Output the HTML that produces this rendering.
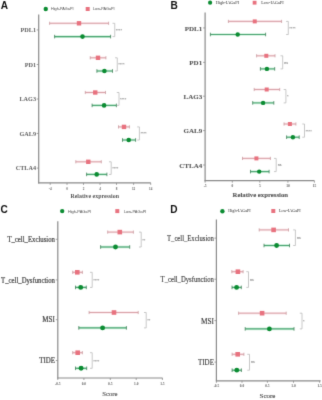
<!DOCTYPE html>
<html><head><meta charset="utf-8">
<style>
html,body{margin:0;padding:0;background:#fff;}
body{width:322px;height:400px;overflow:hidden;font-family:"Liberation Serif",serif;}
#w{width:322px;height:400px;will-change:transform;}
svg{display:block;}
</style></head>
<body>
<div id="w">
<svg width="322" height="400" viewBox="0 0 322 400">
<defs><filter id="bl" color-interpolation-filters="sRGB" filterUnits="userSpaceOnUse" x="0" y="0" width="322" height="400"><feConvolveMatrix order="3" kernelMatrix="0.01134 0.08382 0.01134 0.08382 0.61935 0.08382 0.01134 0.08382 0.01134" divisor="1" edgeMode="duplicate"/></filter></defs>
<rect x="0" y="0" width="322" height="400" fill="#ffffff"/>
<g filter="url(#bl)">
<line x1="38.70" y1="14.40" x2="38.70" y2="183.40" stroke="#8a8a8a" stroke-width="1.2"/>
<line x1="38.20" y1="182.90" x2="150.80" y2="182.90" stroke="#8a8a8a" stroke-width="1.2"/>
<line x1="50.20" y1="182.90" x2="50.20" y2="184.90" stroke="#8a8a8a" stroke-width="0.8"/>
<text x="50.20" y="189.80" font-family="'Liberation Serif', serif" font-size="3.3" fill="#5e5e5e" text-anchor="middle" font-weight="bold" >-4</text>
<line x1="67.00" y1="182.90" x2="67.00" y2="184.90" stroke="#8a8a8a" stroke-width="0.8"/>
<text x="67.00" y="189.80" font-family="'Liberation Serif', serif" font-size="3.3" fill="#5e5e5e" text-anchor="middle" font-weight="bold" >0</text>
<line x1="83.50" y1="182.90" x2="83.50" y2="184.90" stroke="#8a8a8a" stroke-width="0.8"/>
<text x="83.50" y="189.80" font-family="'Liberation Serif', serif" font-size="3.3" fill="#5e5e5e" text-anchor="middle" font-weight="bold" >2</text>
<line x1="100.00" y1="182.90" x2="100.00" y2="184.90" stroke="#8a8a8a" stroke-width="0.8"/>
<text x="100.00" y="189.80" font-family="'Liberation Serif', serif" font-size="3.3" fill="#5e5e5e" text-anchor="middle" font-weight="bold" >4</text>
<line x1="116.50" y1="182.90" x2="116.50" y2="184.90" stroke="#8a8a8a" stroke-width="0.8"/>
<text x="116.50" y="189.80" font-family="'Liberation Serif', serif" font-size="3.3" fill="#5e5e5e" text-anchor="middle" font-weight="bold" >8</text>
<line x1="133.60" y1="182.90" x2="133.60" y2="184.90" stroke="#8a8a8a" stroke-width="0.8"/>
<text x="133.60" y="189.80" font-family="'Liberation Serif', serif" font-size="3.3" fill="#5e5e5e" text-anchor="middle" font-weight="bold" >12</text>
<line x1="150.70" y1="182.90" x2="150.70" y2="184.90" stroke="#8a8a8a" stroke-width="0.8"/>
<text x="150.70" y="189.80" font-family="'Liberation Serif', serif" font-size="3.3" fill="#5e5e5e" text-anchor="middle" font-weight="bold" >14</text>
<line x1="36.70" y1="29.95" x2="38.70" y2="29.95" stroke="#8a8a8a" stroke-width="0.8"/>
<text x="36.00" y="32.20" font-family="'Liberation Serif', serif" font-size="6.2" fill="#606060" text-anchor="end" font-weight="bold" >PDL1</text>
<line x1="36.70" y1="64.50" x2="38.70" y2="64.50" stroke="#8a8a8a" stroke-width="0.8"/>
<text x="36.00" y="66.75" font-family="'Liberation Serif', serif" font-size="6.2" fill="#606060" text-anchor="end" font-weight="bold" >PD1</text>
<line x1="36.70" y1="99.00" x2="38.70" y2="99.00" stroke="#8a8a8a" stroke-width="0.8"/>
<text x="36.00" y="101.25" font-family="'Liberation Serif', serif" font-size="6.2" fill="#606060" text-anchor="end" font-weight="bold" >LAG3</text>
<line x1="36.70" y1="133.45" x2="38.70" y2="133.45" stroke="#8a8a8a" stroke-width="0.8"/>
<text x="36.00" y="135.70" font-family="'Liberation Serif', serif" font-size="6.2" fill="#606060" text-anchor="end" font-weight="bold" >GAL9</text>
<line x1="36.70" y1="168.10" x2="38.70" y2="168.10" stroke="#8a8a8a" stroke-width="0.8"/>
<text x="36.00" y="170.35" font-family="'Liberation Serif', serif" font-size="6.2" fill="#606060" text-anchor="end" font-weight="bold" >CTLA4</text>
<line x1="49.60" y1="23.30" x2="108.60" y2="23.30" stroke="#fbe8eb" stroke-width="2.6"/>
<line x1="49.60" y1="23.30" x2="108.60" y2="23.30" stroke="#d9a3a9" stroke-width="1.0"/>
<line x1="49.60" y1="21.70" x2="49.60" y2="24.90" stroke="#c99aa0" stroke-width="0.8"/>
<line x1="108.60" y1="21.70" x2="108.60" y2="24.90" stroke="#c99aa0" stroke-width="0.8"/>
<rect x="76.80" y="21.10" width="4.40" height="4.40" fill="#e8727f"/>
<line x1="54.60" y1="36.60" x2="110.60" y2="36.60" stroke="#d3f2de" stroke-width="2.7"/>
<line x1="54.60" y1="36.60" x2="110.60" y2="36.60" stroke="#4aa572" stroke-width="1.1"/>
<line x1="54.60" y1="34.80" x2="54.60" y2="38.40" stroke="#3f7d57" stroke-width="0.8"/>
<line x1="110.60" y1="34.80" x2="110.60" y2="38.40" stroke="#3f7d57" stroke-width="0.8"/>
<circle cx="82.50" cy="36.60" r="2.30" fill="#0b8c32"/>
<polyline points="112.55,23.30 114.75,23.30 114.75,36.60 112.55,36.60" fill="none" stroke="#bababa" stroke-width="0.8"/>
<text x="115.75" y="31.95" font-family="'Liberation Sans', sans-serif" font-size="4.0" fill="#999" text-anchor="start" font-weight="bold" >****</text>
<line x1="90.25" y1="57.80" x2="105.90" y2="57.80" stroke="#fbe8eb" stroke-width="2.6"/>
<line x1="90.25" y1="57.80" x2="105.90" y2="57.80" stroke="#d9a3a9" stroke-width="1.0"/>
<line x1="90.25" y1="56.20" x2="90.25" y2="59.40" stroke="#c99aa0" stroke-width="0.8"/>
<line x1="105.90" y1="56.20" x2="105.90" y2="59.40" stroke="#c99aa0" stroke-width="0.8"/>
<rect x="95.80" y="55.60" width="4.40" height="4.40" fill="#e8727f"/>
<line x1="96.90" y1="71.00" x2="112.50" y2="71.00" stroke="#d3f2de" stroke-width="2.7"/>
<line x1="96.90" y1="71.00" x2="112.50" y2="71.00" stroke="#4aa572" stroke-width="1.1"/>
<line x1="96.90" y1="69.20" x2="96.90" y2="72.80" stroke="#3f7d57" stroke-width="0.8"/>
<line x1="112.50" y1="69.20" x2="112.50" y2="72.80" stroke="#3f7d57" stroke-width="0.8"/>
<circle cx="104.40" cy="71.00" r="2.30" fill="#0b8c32"/>
<polyline points="115.05,57.80 117.25,57.80 117.25,71.00 115.05,71.00" fill="none" stroke="#bababa" stroke-width="0.8"/>
<text x="118.25" y="66.40" font-family="'Liberation Sans', sans-serif" font-size="4.0" fill="#999" text-anchor="start" font-weight="bold" >****</text>
<line x1="85.30" y1="92.50" x2="105.50" y2="92.50" stroke="#fbe8eb" stroke-width="2.6"/>
<line x1="85.30" y1="92.50" x2="105.50" y2="92.50" stroke="#d9a3a9" stroke-width="1.0"/>
<line x1="85.30" y1="90.90" x2="85.30" y2="94.10" stroke="#c99aa0" stroke-width="0.8"/>
<line x1="105.50" y1="90.90" x2="105.50" y2="94.10" stroke="#c99aa0" stroke-width="0.8"/>
<rect x="93.05" y="90.30" width="4.40" height="4.40" fill="#e8727f"/>
<line x1="92.10" y1="105.40" x2="116.40" y2="105.40" stroke="#d3f2de" stroke-width="2.7"/>
<line x1="92.10" y1="105.40" x2="116.40" y2="105.40" stroke="#4aa572" stroke-width="1.1"/>
<line x1="92.10" y1="103.60" x2="92.10" y2="107.20" stroke="#3f7d57" stroke-width="0.8"/>
<line x1="116.40" y1="103.60" x2="116.40" y2="107.20" stroke="#3f7d57" stroke-width="0.8"/>
<circle cx="104.10" cy="105.40" r="2.30" fill="#0b8c32"/>
<polyline points="116.80,92.50 119.00,92.50 119.00,105.40 116.80,105.40" fill="none" stroke="#bababa" stroke-width="0.8"/>
<text x="120.00" y="100.95" font-family="'Liberation Sans', sans-serif" font-size="4.0" fill="#999" text-anchor="start" font-weight="bold" >****</text>
<line x1="118.50" y1="126.90" x2="129.40" y2="126.90" stroke="#fbe8eb" stroke-width="2.6"/>
<line x1="118.50" y1="126.90" x2="129.40" y2="126.90" stroke="#d9a3a9" stroke-width="1.0"/>
<line x1="118.50" y1="125.30" x2="118.50" y2="128.50" stroke="#c99aa0" stroke-width="0.8"/>
<line x1="129.40" y1="125.30" x2="129.40" y2="128.50" stroke="#c99aa0" stroke-width="0.8"/>
<rect x="121.80" y="124.70" width="4.40" height="4.40" fill="#e8727f"/>
<line x1="122.50" y1="140.00" x2="135.60" y2="140.00" stroke="#d3f2de" stroke-width="2.7"/>
<line x1="122.50" y1="140.00" x2="135.60" y2="140.00" stroke="#4aa572" stroke-width="1.1"/>
<line x1="122.50" y1="138.20" x2="122.50" y2="141.80" stroke="#3f7d57" stroke-width="0.8"/>
<line x1="135.60" y1="138.20" x2="135.60" y2="141.80" stroke="#3f7d57" stroke-width="0.8"/>
<circle cx="128.75" cy="140.00" r="2.30" fill="#0b8c32"/>
<polyline points="137.20,126.90 139.40,126.90 139.40,140.00 137.20,140.00" fill="none" stroke="#bababa" stroke-width="0.8"/>
<text x="140.40" y="135.45" font-family="'Liberation Sans', sans-serif" font-size="4.0" fill="#999" text-anchor="start" font-weight="bold" >****</text>
<line x1="75.80" y1="161.80" x2="101.30" y2="161.80" stroke="#fbe8eb" stroke-width="2.6"/>
<line x1="75.80" y1="161.80" x2="101.30" y2="161.80" stroke="#d9a3a9" stroke-width="1.0"/>
<line x1="75.80" y1="160.20" x2="75.80" y2="163.40" stroke="#c99aa0" stroke-width="0.8"/>
<line x1="101.30" y1="160.20" x2="101.30" y2="163.40" stroke="#c99aa0" stroke-width="0.8"/>
<rect x="86.10" y="159.60" width="4.40" height="4.40" fill="#e8727f"/>
<line x1="86.60" y1="174.40" x2="106.90" y2="174.40" stroke="#d3f2de" stroke-width="2.7"/>
<line x1="86.60" y1="174.40" x2="106.90" y2="174.40" stroke="#4aa572" stroke-width="1.1"/>
<line x1="86.60" y1="172.60" x2="86.60" y2="176.20" stroke="#3f7d57" stroke-width="0.8"/>
<line x1="106.90" y1="172.60" x2="106.90" y2="176.20" stroke="#3f7d57" stroke-width="0.8"/>
<circle cx="96.70" cy="174.40" r="2.30" fill="#0b8c32"/>
<polyline points="109.00,161.80 111.20,161.80 111.20,174.40 109.00,174.40" fill="none" stroke="#bababa" stroke-width="0.8"/>
<text x="112.20" y="170.10" font-family="'Liberation Sans', sans-serif" font-size="4.0" fill="#999" text-anchor="start" font-weight="bold" >****</text>
<circle cx="45.75" cy="9.0" r="2.2" fill="#0b8c32"/>
<rect x="85.7" y="7.0" width="4.0" height="4.0" fill="#e8727f"/>
<text x="51.00" y="10.45" font-family="'Liberation Sans', sans-serif" font-size="3.8" fill="#4a4a4a" text-anchor="start" font-weight="normal" >High-PAGaPI</text>
<text x="93.00" y="10.45" font-family="'Liberation Sans', sans-serif" font-size="3.8" fill="#4a4a4a" text-anchor="start" font-weight="normal" >Low-PAGaPI</text>
<text x="0.80" y="8.80" font-family="'Liberation Sans', sans-serif" font-size="10.1" fill="#111" text-anchor="start" font-weight="bold" >A</text>
<text x="94.75" y="197.80" font-family="'Liberation Serif', serif" font-size="5.9" fill="#555" text-anchor="middle" font-weight="bold" >Relative expression</text>
<line x1="205.10" y1="12.40" x2="205.10" y2="181.20" stroke="#8a8a8a" stroke-width="1.2"/>
<line x1="204.60" y1="180.70" x2="314.40" y2="180.70" stroke="#8a8a8a" stroke-width="1.2"/>
<line x1="205.10" y1="180.70" x2="205.10" y2="182.70" stroke="#8a8a8a" stroke-width="0.8"/>
<text x="205.10" y="187.20" font-family="'Liberation Serif', serif" font-size="3.5" fill="#5e5e5e" text-anchor="middle" font-weight="bold" >-5</text>
<line x1="232.30" y1="180.70" x2="232.30" y2="182.70" stroke="#8a8a8a" stroke-width="0.8"/>
<text x="232.30" y="187.20" font-family="'Liberation Serif', serif" font-size="3.5" fill="#5e5e5e" text-anchor="middle" font-weight="bold" >0</text>
<line x1="259.80" y1="180.70" x2="259.80" y2="182.70" stroke="#8a8a8a" stroke-width="0.8"/>
<text x="259.80" y="187.20" font-family="'Liberation Serif', serif" font-size="3.5" fill="#5e5e5e" text-anchor="middle" font-weight="bold" >5</text>
<line x1="287.90" y1="180.70" x2="287.90" y2="182.70" stroke="#8a8a8a" stroke-width="0.8"/>
<text x="287.90" y="187.20" font-family="'Liberation Serif', serif" font-size="3.5" fill="#5e5e5e" text-anchor="middle" font-weight="bold" >10</text>
<line x1="314.40" y1="180.70" x2="314.40" y2="182.70" stroke="#8a8a8a" stroke-width="0.8"/>
<text x="314.40" y="187.20" font-family="'Liberation Serif', serif" font-size="3.5" fill="#5e5e5e" text-anchor="middle" font-weight="bold" >15</text>
<line x1="203.10" y1="27.95" x2="205.10" y2="27.95" stroke="#8a8a8a" stroke-width="0.8"/>
<text x="202.20" y="30.56" font-family="'Liberation Serif', serif" font-size="7.0" fill="#555" text-anchor="end" font-weight="bold" stroke="#555" stroke-width="0.08">PDL1</text>
<line x1="203.10" y1="62.35" x2="205.10" y2="62.35" stroke="#8a8a8a" stroke-width="0.8"/>
<text x="202.20" y="64.96" font-family="'Liberation Serif', serif" font-size="7.0" fill="#555" text-anchor="end" font-weight="bold" stroke="#555" stroke-width="0.08">PD1</text>
<line x1="203.10" y1="96.20" x2="205.10" y2="96.20" stroke="#8a8a8a" stroke-width="0.8"/>
<text x="202.20" y="98.81" font-family="'Liberation Serif', serif" font-size="7.0" fill="#555" text-anchor="end" font-weight="bold" stroke="#555" stroke-width="0.08">LAG3</text>
<line x1="203.10" y1="130.60" x2="205.10" y2="130.60" stroke="#8a8a8a" stroke-width="0.8"/>
<text x="202.20" y="133.21" font-family="'Liberation Serif', serif" font-size="7.0" fill="#555" text-anchor="end" font-weight="bold" stroke="#555" stroke-width="0.08">GAL9</text>
<line x1="203.10" y1="165.00" x2="205.10" y2="165.00" stroke="#8a8a8a" stroke-width="0.8"/>
<text x="202.20" y="167.61" font-family="'Liberation Serif', serif" font-size="7.0" fill="#555" text-anchor="end" font-weight="bold" stroke="#555" stroke-width="0.08">CTLA4</text>
<line x1="228.40" y1="21.40" x2="281.60" y2="21.40" stroke="#fbe8eb" stroke-width="2.6"/>
<line x1="228.40" y1="21.40" x2="281.60" y2="21.40" stroke="#d9a3a9" stroke-width="1.0"/>
<line x1="228.40" y1="19.80" x2="228.40" y2="23.00" stroke="#c99aa0" stroke-width="0.8"/>
<line x1="281.60" y1="19.80" x2="281.60" y2="23.00" stroke="#c99aa0" stroke-width="0.8"/>
<rect x="252.75" y="19.40" width="4.00" height="4.00" fill="#e8727f"/>
<line x1="210.40" y1="34.50" x2="265.60" y2="34.50" stroke="#d3f2de" stroke-width="2.7"/>
<line x1="210.40" y1="34.50" x2="265.60" y2="34.50" stroke="#4aa572" stroke-width="1.1"/>
<line x1="210.40" y1="32.70" x2="210.40" y2="36.30" stroke="#3f7d57" stroke-width="0.8"/>
<line x1="265.60" y1="32.70" x2="265.60" y2="36.30" stroke="#3f7d57" stroke-width="0.8"/>
<circle cx="237.70" cy="34.50" r="2.20" fill="#0b8c32"/>
<polyline points="286.10,21.40 288.30,21.40 288.30,34.50 286.10,34.50" fill="none" stroke="#bababa" stroke-width="0.8"/>
<text x="289.30" y="29.95" font-family="'Liberation Sans', sans-serif" font-size="4.0" fill="#999" text-anchor="start" font-weight="bold" >****</text>
<line x1="256.60" y1="55.80" x2="275.00" y2="55.80" stroke="#fbe8eb" stroke-width="2.6"/>
<line x1="256.60" y1="55.80" x2="275.00" y2="55.80" stroke="#d9a3a9" stroke-width="1.0"/>
<line x1="256.60" y1="54.20" x2="256.60" y2="57.40" stroke="#c99aa0" stroke-width="0.8"/>
<line x1="275.00" y1="54.20" x2="275.00" y2="57.40" stroke="#c99aa0" stroke-width="0.8"/>
<rect x="264.30" y="53.80" width="4.00" height="4.00" fill="#e8727f"/>
<line x1="260.40" y1="68.90" x2="274.70" y2="68.90" stroke="#d3f2de" stroke-width="2.7"/>
<line x1="260.40" y1="68.90" x2="274.70" y2="68.90" stroke="#4aa572" stroke-width="1.1"/>
<line x1="260.40" y1="67.10" x2="260.40" y2="70.70" stroke="#3f7d57" stroke-width="0.8"/>
<line x1="274.70" y1="67.10" x2="274.70" y2="70.70" stroke="#3f7d57" stroke-width="0.8"/>
<circle cx="266.90" cy="68.90" r="2.20" fill="#0b8c32"/>
<polyline points="280.50,55.80 282.70,55.80 282.70,68.90 280.50,68.90" fill="none" stroke="#bababa" stroke-width="0.8"/>
<text x="284.20" y="63.54" font-family="'Liberation Sans', sans-serif" font-size="3.3" fill="#7a7a7a" text-anchor="start" font-weight="bold" >ns</text>
<line x1="254.20" y1="89.50" x2="279.70" y2="89.50" stroke="#fbe8eb" stroke-width="2.6"/>
<line x1="254.20" y1="89.50" x2="279.70" y2="89.50" stroke="#d9a3a9" stroke-width="1.0"/>
<line x1="254.20" y1="87.90" x2="254.20" y2="91.10" stroke="#c99aa0" stroke-width="0.8"/>
<line x1="279.70" y1="87.90" x2="279.70" y2="91.10" stroke="#c99aa0" stroke-width="0.8"/>
<rect x="264.70" y="87.50" width="4.00" height="4.00" fill="#e8727f"/>
<line x1="252.70" y1="102.90" x2="273.80" y2="102.90" stroke="#d3f2de" stroke-width="2.7"/>
<line x1="252.70" y1="102.90" x2="273.80" y2="102.90" stroke="#4aa572" stroke-width="1.1"/>
<line x1="252.70" y1="101.10" x2="252.70" y2="104.70" stroke="#3f7d57" stroke-width="0.8"/>
<line x1="273.80" y1="101.10" x2="273.80" y2="104.70" stroke="#3f7d57" stroke-width="0.8"/>
<circle cx="263.10" cy="102.90" r="2.20" fill="#0b8c32"/>
<polyline points="283.70,89.50 285.90,89.50 285.90,102.90 283.70,102.90" fill="none" stroke="#bababa" stroke-width="0.8"/>
<text x="286.90" y="98.20" font-family="'Liberation Sans', sans-serif" font-size="4.0" fill="#999" text-anchor="start" font-weight="bold" >*</text>
<line x1="284.00" y1="124.00" x2="295.90" y2="124.00" stroke="#fbe8eb" stroke-width="2.6"/>
<line x1="284.00" y1="124.00" x2="295.90" y2="124.00" stroke="#d9a3a9" stroke-width="1.0"/>
<line x1="284.00" y1="122.40" x2="284.00" y2="125.60" stroke="#c99aa0" stroke-width="0.8"/>
<line x1="295.90" y1="122.40" x2="295.90" y2="125.60" stroke="#c99aa0" stroke-width="0.8"/>
<rect x="287.90" y="122.00" width="4.00" height="4.00" fill="#e8727f"/>
<line x1="286.60" y1="137.20" x2="299.20" y2="137.20" stroke="#d3f2de" stroke-width="2.7"/>
<line x1="286.60" y1="137.20" x2="299.20" y2="137.20" stroke="#4aa572" stroke-width="1.1"/>
<line x1="286.60" y1="135.40" x2="286.60" y2="139.00" stroke="#3f7d57" stroke-width="0.8"/>
<line x1="299.20" y1="135.40" x2="299.20" y2="139.00" stroke="#3f7d57" stroke-width="0.8"/>
<circle cx="292.90" cy="137.20" r="2.20" fill="#0b8c32"/>
<polyline points="302.30,124.00 304.50,124.00 304.50,137.20 302.30,137.20" fill="none" stroke="#bababa" stroke-width="0.8"/>
<text x="305.50" y="132.60" font-family="'Liberation Sans', sans-serif" font-size="4.0" fill="#999" text-anchor="start" font-weight="bold" >****</text>
<line x1="242.50" y1="158.40" x2="270.40" y2="158.40" stroke="#fbe8eb" stroke-width="2.6"/>
<line x1="242.50" y1="158.40" x2="270.40" y2="158.40" stroke="#d9a3a9" stroke-width="1.0"/>
<line x1="242.50" y1="156.80" x2="242.50" y2="160.00" stroke="#c99aa0" stroke-width="0.8"/>
<line x1="270.40" y1="156.80" x2="270.40" y2="160.00" stroke="#c99aa0" stroke-width="0.8"/>
<rect x="254.40" y="156.40" width="4.00" height="4.00" fill="#e8727f"/>
<line x1="250.50" y1="171.60" x2="269.10" y2="171.60" stroke="#d3f2de" stroke-width="2.7"/>
<line x1="250.50" y1="171.60" x2="269.10" y2="171.60" stroke="#4aa572" stroke-width="1.1"/>
<line x1="250.50" y1="169.80" x2="250.50" y2="173.40" stroke="#3f7d57" stroke-width="0.8"/>
<line x1="269.10" y1="169.80" x2="269.10" y2="173.40" stroke="#3f7d57" stroke-width="0.8"/>
<circle cx="259.20" cy="171.60" r="2.20" fill="#0b8c32"/>
<polyline points="274.00,158.40 276.20,158.40 276.20,171.60 274.00,171.60" fill="none" stroke="#bababa" stroke-width="0.8"/>
<text x="277.70" y="166.19" font-family="'Liberation Sans', sans-serif" font-size="3.3" fill="#7a7a7a" text-anchor="start" font-weight="bold" >ns</text>
<circle cx="210.1" cy="2.7" r="2.1" fill="#0b8c32"/>
<rect x="252.7" y="0.8000000000000003" width="3.8" height="3.8" fill="#e8727f"/>
<text x="215.80" y="4.10" font-family="'Liberation Serif', serif" font-size="4.25" fill="#2a2a2a" text-anchor="start" font-weight="normal" >High-IAGaPI</text>
<text x="261.20" y="4.10" font-family="'Liberation Serif', serif" font-size="4.25" fill="#2a2a2a" text-anchor="start" font-weight="normal" >Low-IAGaPI</text>
<text x="170.60" y="8.70" font-family="'Liberation Sans', sans-serif" font-size="10.1" fill="#111" text-anchor="start" font-weight="bold" >B</text>
<text x="260.30" y="196.70" font-family="'Liberation Serif', serif" font-size="6.75" fill="#555" text-anchor="middle" font-weight="bold" stroke="#555" stroke-width="0.1">Relative expression</text>
<line x1="57.80" y1="221.20" x2="57.80" y2="378.50" stroke="#8a8a8a" stroke-width="1.2"/>
<line x1="57.30" y1="378.00" x2="162.60" y2="378.00" stroke="#8a8a8a" stroke-width="1.2"/>
<line x1="57.80" y1="378.00" x2="57.80" y2="380.00" stroke="#8a8a8a" stroke-width="0.8"/>
<text x="57.80" y="385.20" font-family="'Liberation Serif', serif" font-size="3.5" fill="#5e5e5e" text-anchor="middle" font-weight="bold" >-0.5</text>
<line x1="83.90" y1="378.00" x2="83.90" y2="380.00" stroke="#8a8a8a" stroke-width="0.8"/>
<text x="83.90" y="385.20" font-family="'Liberation Serif', serif" font-size="3.5" fill="#5e5e5e" text-anchor="middle" font-weight="bold" >0.0</text>
<line x1="110.30" y1="378.00" x2="110.30" y2="380.00" stroke="#8a8a8a" stroke-width="0.8"/>
<text x="110.30" y="385.20" font-family="'Liberation Serif', serif" font-size="3.5" fill="#5e5e5e" text-anchor="middle" font-weight="bold" >0.5</text>
<line x1="136.20" y1="378.00" x2="136.20" y2="380.00" stroke="#8a8a8a" stroke-width="0.8"/>
<text x="136.20" y="385.20" font-family="'Liberation Serif', serif" font-size="3.5" fill="#5e5e5e" text-anchor="middle" font-weight="bold" >1.0</text>
<line x1="162.40" y1="378.00" x2="162.40" y2="380.00" stroke="#8a8a8a" stroke-width="0.8"/>
<text x="162.40" y="385.20" font-family="'Liberation Serif', serif" font-size="3.5" fill="#5e5e5e" text-anchor="middle" font-weight="bold" >1.5</text>
<line x1="55.80" y1="239.30" x2="57.80" y2="239.30" stroke="#8a8a8a" stroke-width="0.8"/>
<text x="54.90" y="242.04" font-family="'Liberation Serif', serif" font-size="7.4" fill="#4a4a4a" text-anchor="end" font-weight="normal" stroke="#4a4a4a" stroke-width="0.24" textLength="47.5" lengthAdjust="spacingAndGlyphs">T_cell_Exclusion</text>
<line x1="55.80" y1="279.90" x2="57.80" y2="279.90" stroke="#8a8a8a" stroke-width="0.8"/>
<text x="54.90" y="282.64" font-family="'Liberation Serif', serif" font-size="7.4" fill="#4a4a4a" text-anchor="end" font-weight="normal" stroke="#4a4a4a" stroke-width="0.24" textLength="53.8" lengthAdjust="spacingAndGlyphs">T_cell_Dysfunction</text>
<line x1="55.80" y1="319.70" x2="57.80" y2="319.70" stroke="#8a8a8a" stroke-width="0.8"/>
<text x="54.90" y="322.44" font-family="'Liberation Serif', serif" font-size="7.4" fill="#4a4a4a" text-anchor="end" font-weight="normal" stroke="#4a4a4a" stroke-width="0.24" textLength="12.6" lengthAdjust="spacingAndGlyphs">MSI</text>
<line x1="55.80" y1="360.50" x2="57.80" y2="360.50" stroke="#8a8a8a" stroke-width="0.8"/>
<text x="54.90" y="363.24" font-family="'Liberation Serif', serif" font-size="7.4" fill="#4a4a4a" text-anchor="end" font-weight="normal" stroke="#4a4a4a" stroke-width="0.24" textLength="15.6" lengthAdjust="spacingAndGlyphs">TIDE</text>
<line x1="107.70" y1="232.10" x2="133.40" y2="232.10" stroke="#fbe8eb" stroke-width="2.6"/>
<line x1="107.70" y1="232.10" x2="133.40" y2="232.10" stroke="#d9a3a9" stroke-width="1.0"/>
<line x1="107.70" y1="230.50" x2="107.70" y2="233.70" stroke="#c99aa0" stroke-width="0.8"/>
<line x1="133.40" y1="230.50" x2="133.40" y2="233.70" stroke="#c99aa0" stroke-width="0.8"/>
<rect x="117.50" y="229.80" width="4.60" height="4.60" fill="#e8727f"/>
<line x1="100.60" y1="247.00" x2="129.70" y2="247.00" stroke="#d3f2de" stroke-width="2.8"/>
<line x1="100.60" y1="247.00" x2="129.70" y2="247.00" stroke="#4aa572" stroke-width="1.2"/>
<line x1="100.60" y1="245.20" x2="100.60" y2="248.80" stroke="#3f7d57" stroke-width="0.8"/>
<line x1="129.70" y1="245.20" x2="129.70" y2="248.80" stroke="#3f7d57" stroke-width="0.8"/>
<circle cx="115.50" cy="247.00" r="2.45" fill="#0b8c32"/>
<polyline points="139.00,232.10 141.20,232.10 141.20,247.00 139.00,247.00" fill="none" stroke="#bababa" stroke-width="0.8"/>
<text x="142.20" y="241.55" font-family="'Liberation Sans', sans-serif" font-size="4.0" fill="#999" text-anchor="start" font-weight="bold" >**</text>
<line x1="72.70" y1="272.30" x2="82.40" y2="272.30" stroke="#fbe8eb" stroke-width="2.6"/>
<line x1="72.70" y1="272.30" x2="82.40" y2="272.30" stroke="#d9a3a9" stroke-width="1.0"/>
<line x1="72.70" y1="270.70" x2="72.70" y2="273.90" stroke="#c99aa0" stroke-width="0.8"/>
<line x1="82.40" y1="270.70" x2="82.40" y2="273.90" stroke="#c99aa0" stroke-width="0.8"/>
<rect x="75.00" y="270.00" width="4.60" height="4.60" fill="#e8727f"/>
<line x1="75.50" y1="287.40" x2="86.30" y2="287.40" stroke="#d3f2de" stroke-width="2.8"/>
<line x1="75.50" y1="287.40" x2="86.30" y2="287.40" stroke="#4aa572" stroke-width="1.2"/>
<line x1="75.50" y1="285.60" x2="75.50" y2="289.20" stroke="#3f7d57" stroke-width="0.8"/>
<line x1="86.30" y1="285.60" x2="86.30" y2="289.20" stroke="#3f7d57" stroke-width="0.8"/>
<circle cx="80.70" cy="287.40" r="2.45" fill="#0b8c32"/>
<polyline points="90.00,272.30 92.20,272.30 92.20,287.40 90.00,287.40" fill="none" stroke="#bababa" stroke-width="0.8"/>
<text x="93.20" y="281.85" font-family="'Liberation Sans', sans-serif" font-size="4.0" fill="#999" text-anchor="start" font-weight="bold" >****</text>
<line x1="89.10" y1="312.50" x2="138.20" y2="312.50" stroke="#fbe8eb" stroke-width="2.6"/>
<line x1="89.10" y1="312.50" x2="138.20" y2="312.50" stroke="#d9a3a9" stroke-width="1.0"/>
<line x1="89.10" y1="310.90" x2="89.10" y2="314.10" stroke="#c99aa0" stroke-width="0.8"/>
<line x1="138.20" y1="310.90" x2="138.20" y2="314.10" stroke="#c99aa0" stroke-width="0.8"/>
<rect x="111.70" y="310.20" width="4.60" height="4.60" fill="#e8727f"/>
<line x1="78.80" y1="327.90" x2="126.40" y2="327.90" stroke="#d3f2de" stroke-width="2.8"/>
<line x1="78.80" y1="327.90" x2="126.40" y2="327.90" stroke="#4aa572" stroke-width="1.2"/>
<line x1="78.80" y1="326.10" x2="78.80" y2="329.70" stroke="#3f7d57" stroke-width="0.8"/>
<line x1="126.40" y1="326.10" x2="126.40" y2="329.70" stroke="#3f7d57" stroke-width="0.8"/>
<circle cx="102.60" cy="327.90" r="2.45" fill="#0b8c32"/>
<polyline points="144.00,312.50 146.20,312.50 146.20,327.90 144.00,327.90" fill="none" stroke="#bababa" stroke-width="0.8"/>
<text x="147.20" y="322.20" font-family="'Liberation Sans', sans-serif" font-size="4.0" fill="#999" text-anchor="start" font-weight="bold" >**</text>
<line x1="72.70" y1="352.70" x2="82.40" y2="352.70" stroke="#fbe8eb" stroke-width="2.6"/>
<line x1="72.70" y1="352.70" x2="82.40" y2="352.70" stroke="#d9a3a9" stroke-width="1.0"/>
<line x1="72.70" y1="351.10" x2="72.70" y2="354.30" stroke="#c99aa0" stroke-width="0.8"/>
<line x1="82.40" y1="351.10" x2="82.40" y2="354.30" stroke="#c99aa0" stroke-width="0.8"/>
<rect x="75.40" y="350.40" width="4.60" height="4.60" fill="#e8727f"/>
<line x1="75.50" y1="368.30" x2="86.70" y2="368.30" stroke="#d3f2de" stroke-width="2.8"/>
<line x1="75.50" y1="368.30" x2="86.70" y2="368.30" stroke="#4aa572" stroke-width="1.2"/>
<line x1="75.50" y1="366.50" x2="75.50" y2="370.10" stroke="#3f7d57" stroke-width="0.8"/>
<line x1="86.70" y1="366.50" x2="86.70" y2="370.10" stroke="#3f7d57" stroke-width="0.8"/>
<circle cx="81.10" cy="368.30" r="2.45" fill="#0b8c32"/>
<polyline points="90.00,352.70 92.20,352.70 92.20,368.30 90.00,368.30" fill="none" stroke="#bababa" stroke-width="0.8"/>
<text x="93.20" y="362.50" font-family="'Liberation Sans', sans-serif" font-size="4.0" fill="#999" text-anchor="start" font-weight="bold" >****</text>
<circle cx="62.2" cy="211.1" r="2.2" fill="#0b8c32"/>
<rect x="115.3" y="209.1" width="4.0" height="4.0" fill="#e8727f"/>
<text x="67.90" y="212.90" font-family="'Liberation Sans', sans-serif" font-size="3.95" fill="#4a4a4a" text-anchor="start" font-weight="normal" >High-PAGaPI</text>
<text x="123.90" y="212.90" font-family="'Liberation Sans', sans-serif" font-size="3.95" fill="#4a4a4a" text-anchor="start" font-weight="normal" >Low-PAGaPI</text>
<text x="0.60" y="212.60" font-family="'Liberation Sans', sans-serif" font-size="10.1" fill="#111" text-anchor="start" font-weight="bold" >C</text>
<text x="109.90" y="395.90" font-family="'Liberation Serif', serif" font-size="6.9" fill="#4a4a4a" text-anchor="middle" font-weight="normal" stroke="#4a4a4a" stroke-width="0.1" textLength="15.4" lengthAdjust="spacingAndGlyphs">Score</text>
<line x1="216.40" y1="219.60" x2="216.40" y2="381.30" stroke="#8a8a8a" stroke-width="1.2"/>
<line x1="215.90" y1="380.80" x2="320.60" y2="380.80" stroke="#8a8a8a" stroke-width="1.2"/>
<line x1="216.40" y1="380.80" x2="216.40" y2="382.80" stroke="#8a8a8a" stroke-width="0.8"/>
<text x="216.40" y="387.20" font-family="'Liberation Serif', serif" font-size="3.5" fill="#5e5e5e" text-anchor="middle" font-weight="bold" >-0.5</text>
<line x1="242.00" y1="380.80" x2="242.00" y2="382.80" stroke="#8a8a8a" stroke-width="0.8"/>
<text x="242.00" y="387.20" font-family="'Liberation Serif', serif" font-size="3.5" fill="#5e5e5e" text-anchor="middle" font-weight="bold" >0.0</text>
<line x1="267.40" y1="380.80" x2="267.40" y2="382.80" stroke="#8a8a8a" stroke-width="0.8"/>
<text x="267.40" y="387.20" font-family="'Liberation Serif', serif" font-size="3.5" fill="#5e5e5e" text-anchor="middle" font-weight="bold" >0.5</text>
<line x1="293.50" y1="380.80" x2="293.50" y2="382.80" stroke="#8a8a8a" stroke-width="0.8"/>
<text x="293.50" y="387.20" font-family="'Liberation Serif', serif" font-size="3.5" fill="#5e5e5e" text-anchor="middle" font-weight="bold" >1.0</text>
<line x1="319.60" y1="380.80" x2="319.60" y2="382.80" stroke="#8a8a8a" stroke-width="0.8"/>
<text x="319.60" y="387.20" font-family="'Liberation Serif', serif" font-size="3.5" fill="#5e5e5e" text-anchor="middle" font-weight="bold" >1.5</text>
<line x1="214.40" y1="238.10" x2="216.40" y2="238.10" stroke="#8a8a8a" stroke-width="0.8"/>
<text x="213.90" y="241.04" font-family="'Liberation Serif', serif" font-size="7.4" fill="#383838" text-anchor="end" font-weight="normal" stroke="#383838" stroke-width="0.12" textLength="46.9" lengthAdjust="spacingAndGlyphs">T_cell_Exclusion</text>
<line x1="214.40" y1="279.20" x2="216.40" y2="279.20" stroke="#8a8a8a" stroke-width="0.8"/>
<text x="213.90" y="282.14" font-family="'Liberation Serif', serif" font-size="7.4" fill="#383838" text-anchor="end" font-weight="normal" stroke="#383838" stroke-width="0.12" textLength="53.3" lengthAdjust="spacingAndGlyphs">T_cell_Dysfunction</text>
<line x1="214.40" y1="320.60" x2="216.40" y2="320.60" stroke="#8a8a8a" stroke-width="0.8"/>
<text x="213.90" y="323.54" font-family="'Liberation Serif', serif" font-size="7.4" fill="#383838" text-anchor="end" font-weight="normal" stroke="#383838" stroke-width="0.12" textLength="13.0" lengthAdjust="spacingAndGlyphs">MSI</text>
<line x1="214.40" y1="362.10" x2="216.40" y2="362.10" stroke="#8a8a8a" stroke-width="0.8"/>
<text x="213.90" y="365.04" font-family="'Liberation Serif', serif" font-size="7.4" fill="#383838" text-anchor="end" font-weight="normal" stroke="#383838" stroke-width="0.12" textLength="15.9" lengthAdjust="spacingAndGlyphs">TIDE</text>
<line x1="259.20" y1="229.90" x2="288.50" y2="229.90" stroke="#fbe8eb" stroke-width="2.6"/>
<line x1="259.20" y1="229.90" x2="288.50" y2="229.90" stroke="#d9a3a9" stroke-width="1.0"/>
<line x1="259.20" y1="228.30" x2="259.20" y2="231.50" stroke="#c99aa0" stroke-width="0.8"/>
<line x1="288.50" y1="228.30" x2="288.50" y2="231.50" stroke="#c99aa0" stroke-width="0.8"/>
<rect x="271.30" y="227.60" width="4.60" height="4.60" fill="#e8727f"/>
<line x1="264.00" y1="245.50" x2="289.50" y2="245.50" stroke="#d3f2de" stroke-width="2.7"/>
<line x1="264.00" y1="245.50" x2="289.50" y2="245.50" stroke="#4aa572" stroke-width="1.1"/>
<line x1="264.00" y1="243.70" x2="264.00" y2="247.30" stroke="#3f7d57" stroke-width="0.8"/>
<line x1="289.50" y1="243.70" x2="289.50" y2="247.30" stroke="#3f7d57" stroke-width="0.8"/>
<circle cx="276.60" cy="245.50" r="2.40" fill="#0b8c32"/>
<polyline points="293.20,229.90 295.40,229.90 295.40,245.50 293.20,245.50" fill="none" stroke="#bababa" stroke-width="0.8"/>
<text x="296.90" y="238.89" font-family="'Liberation Sans', sans-serif" font-size="3.3" fill="#7a7a7a" text-anchor="start" font-weight="bold" >ns</text>
<line x1="231.80" y1="271.70" x2="243.10" y2="271.70" stroke="#fbe8eb" stroke-width="2.6"/>
<line x1="231.80" y1="271.70" x2="243.10" y2="271.70" stroke="#d9a3a9" stroke-width="1.0"/>
<line x1="231.80" y1="270.10" x2="231.80" y2="273.30" stroke="#c99aa0" stroke-width="0.8"/>
<line x1="243.10" y1="270.10" x2="243.10" y2="273.30" stroke="#c99aa0" stroke-width="0.8"/>
<rect x="235.60" y="269.40" width="4.60" height="4.60" fill="#e8727f"/>
<line x1="232.00" y1="287.40" x2="241.30" y2="287.40" stroke="#d3f2de" stroke-width="2.7"/>
<line x1="232.00" y1="287.40" x2="241.30" y2="287.40" stroke="#4aa572" stroke-width="1.1"/>
<line x1="232.00" y1="285.60" x2="232.00" y2="289.20" stroke="#3f7d57" stroke-width="0.8"/>
<line x1="241.30" y1="285.60" x2="241.30" y2="289.20" stroke="#3f7d57" stroke-width="0.8"/>
<circle cx="236.60" cy="287.40" r="2.40" fill="#0b8c32"/>
<polyline points="246.30,271.70 248.50,271.70 248.50,287.40 246.30,287.40" fill="none" stroke="#bababa" stroke-width="0.8"/>
<text x="250.00" y="280.74" font-family="'Liberation Sans', sans-serif" font-size="3.3" fill="#7a7a7a" text-anchor="start" font-weight="bold" >ns</text>
<line x1="238.60" y1="313.20" x2="286.20" y2="313.20" stroke="#fbe8eb" stroke-width="2.6"/>
<line x1="238.60" y1="313.20" x2="286.20" y2="313.20" stroke="#d9a3a9" stroke-width="1.0"/>
<line x1="238.60" y1="311.60" x2="238.60" y2="314.80" stroke="#c99aa0" stroke-width="0.8"/>
<line x1="286.20" y1="311.60" x2="286.20" y2="314.80" stroke="#c99aa0" stroke-width="0.8"/>
<rect x="259.80" y="310.90" width="4.60" height="4.60" fill="#e8727f"/>
<line x1="245.20" y1="328.90" x2="294.00" y2="328.90" stroke="#d3f2de" stroke-width="2.7"/>
<line x1="245.20" y1="328.90" x2="294.00" y2="328.90" stroke="#4aa572" stroke-width="1.1"/>
<line x1="245.20" y1="327.10" x2="245.20" y2="330.70" stroke="#3f7d57" stroke-width="0.8"/>
<line x1="294.00" y1="327.10" x2="294.00" y2="330.70" stroke="#3f7d57" stroke-width="0.8"/>
<circle cx="269.40" cy="328.90" r="2.40" fill="#0b8c32"/>
<polyline points="299.80,313.20 302.00,313.20 302.00,328.90 299.80,328.90" fill="none" stroke="#bababa" stroke-width="0.8"/>
<text x="303.00" y="323.05" font-family="'Liberation Sans', sans-serif" font-size="4.0" fill="#999" text-anchor="start" font-weight="bold" >*</text>
<line x1="232.10" y1="354.30" x2="243.90" y2="354.30" stroke="#fbe8eb" stroke-width="2.6"/>
<line x1="232.10" y1="354.30" x2="243.90" y2="354.30" stroke="#d9a3a9" stroke-width="1.0"/>
<line x1="232.10" y1="352.70" x2="232.10" y2="355.90" stroke="#c99aa0" stroke-width="0.8"/>
<line x1="243.90" y1="352.70" x2="243.90" y2="355.90" stroke="#c99aa0" stroke-width="0.8"/>
<rect x="235.40" y="352.00" width="4.60" height="4.60" fill="#e8727f"/>
<line x1="232.10" y1="370.20" x2="241.40" y2="370.20" stroke="#d3f2de" stroke-width="2.7"/>
<line x1="232.10" y1="370.20" x2="241.40" y2="370.20" stroke="#4aa572" stroke-width="1.1"/>
<line x1="232.10" y1="368.40" x2="232.10" y2="372.00" stroke="#3f7d57" stroke-width="0.8"/>
<line x1="241.40" y1="368.40" x2="241.40" y2="372.00" stroke="#3f7d57" stroke-width="0.8"/>
<circle cx="236.80" cy="370.20" r="2.40" fill="#0b8c32"/>
<polyline points="247.30,354.30 249.50,354.30 249.50,370.20 247.30,370.20" fill="none" stroke="#bababa" stroke-width="0.8"/>
<text x="251.00" y="363.44" font-family="'Liberation Sans', sans-serif" font-size="3.3" fill="#7a7a7a" text-anchor="start" font-weight="bold" >ns</text>
<circle cx="222.4" cy="211.2" r="2.2" fill="#0b8c32"/>
<rect x="271.3" y="209.0" width="4.0" height="4.0" fill="#e8727f"/>
<text x="228.20" y="211.87" font-family="'Liberation Serif', serif" font-size="4.15" fill="#2a2a2a" text-anchor="start" font-weight="normal" >High-IAGaPI</text>
<text x="278.90" y="211.67" font-family="'Liberation Serif', serif" font-size="4.15" fill="#2a2a2a" text-anchor="start" font-weight="normal" >Low-IAGaPI</text>
<text x="170.30" y="212.80" font-family="'Liberation Sans', sans-serif" font-size="10.1" fill="#111" text-anchor="start" font-weight="bold" >D</text>
<text x="267.50" y="397.90" font-family="'Liberation Serif', serif" font-size="7.0" fill="#444" text-anchor="middle" font-weight="normal" stroke="#444" stroke-width="0.1" textLength="15.8" lengthAdjust="spacingAndGlyphs">Score</text>
</g>
</svg>
</div>
</body></html>
